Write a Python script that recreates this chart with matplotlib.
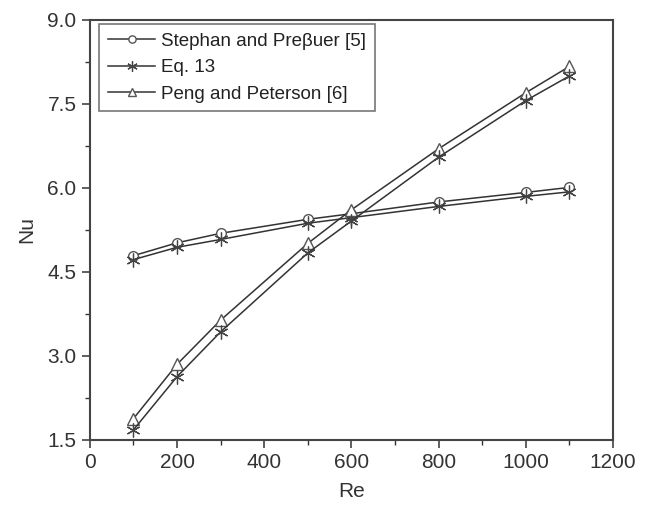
import matplotlib
matplotlib.use("Agg")
import matplotlib.pyplot as plt
from matplotlib.ticker import MultipleLocator

plt.rcParams['font.family'] = ['Liberation Sans', 'DejaVu Sans']

re = [100, 200, 300, 500, 600, 800, 1000, 1100]
nu_stephan = [4.79, 5.02, 5.19, 5.44, 5.54, 5.75, 5.92, 6.01]
nu_eq13_low = [4.72, 4.94, 5.08, 5.37, 5.47, 5.67, 5.85, 5.93]
nu_peng = [1.88, 2.85, 3.64, 5.01, 5.61, 6.70, 7.70, 8.17]
nu_eq13_high = [1.68, 2.63, 3.43, 4.84, 5.41, 6.55, 7.56, 8.00]

line_col = '#333333'
asterisk = (6, 2, 0)

fig = plt.figure(figsize=(6.46, 5.11), dpi=100)
ax = fig.add_axes([0.139, 0.139, 0.81, 0.822])

ax.plot(re, nu_stephan, color=line_col, lw=1.1, marker='o', ms=7,
        mfc='white', mec='#555555', label='Stephan and Pre\u03b2uer [5]')
ax.plot(re, nu_eq13_low, color=line_col, lw=1.1, marker=asterisk, ms=10,
        mfc='none', mec='#444444', mew=0.9, label='Eq. 13')
ax.plot(re, nu_peng, color=line_col, lw=1.1, marker='^', ms=8,
        mfc='white', mec='#555555', label='Peng and Peterson [6]')
ax.plot(re, nu_eq13_high, color=line_col, lw=1.1, marker=asterisk, ms=10,
        mfc='none', mec='#444444', mew=0.9)

ax.set_xlim(0, 1200)
ax.set_ylim(1.5, 9.0)
ax.xaxis.set_major_locator(MultipleLocator(200))
ax.xaxis.set_minor_locator(MultipleLocator(100))
ax.yaxis.set_major_locator(MultipleLocator(1.5))
ax.yaxis.set_minor_locator(MultipleLocator(0.75))
ax.yaxis.set_major_formatter(plt.FormatStrFormatter('%.1f'))

ax.tick_params(which='major', direction='out', length=6, width=1.1,
               labelsize=15, colors='#333333')
ax.tick_params(which='minor', direction='out', length=3.5, width=1.0,
               colors='#333333')
for sp in ax.spines.values():
    sp.set_linewidth(1.5)
    sp.set_color('#444444')

ax.set_xlabel('Re', fontsize=15, color='#333333', labelpad=7)
ax.set_ylabel('Nu', fontsize=15, color='#333333', labelpad=8)

leg = ax.legend(loc='upper left', bbox_to_anchor=(0.018, 0.99),
                fontsize=13.5, fancybox=False, framealpha=1,
                edgecolor='#777777', handlelength=2.55, markerscale=0.75,
                borderpad=0.45, labelspacing=0.5, handletextpad=0.3,
                borderaxespad=0)
leg.get_frame().set_linewidth(1.2)
for t in leg.get_texts():
    t.set_color('#222222')

fig.savefig('out.png', dpi=100)
